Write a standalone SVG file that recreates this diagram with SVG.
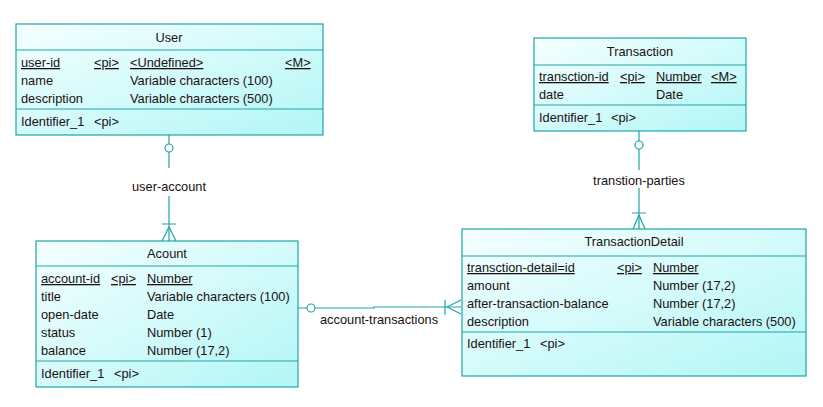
<svg xmlns="http://www.w3.org/2000/svg" width="823" height="407" viewBox="0 0 823 407">
<defs>
<linearGradient id="g" x1="0" y1="0" x2="1" y2="1">
<stop offset="0" stop-color="#f6ffff"/>
<stop offset="1" stop-color="#b2f6f6"/>
</linearGradient>
</defs>
<style>
.box{fill:url(#g);stroke:#1fa5a5;stroke-width:1.2}
.sep{stroke:#1fa5a5;stroke-width:1.2}
.c{fill:none;stroke:#1fa5a5;stroke-width:1.2}
.o{fill:#ffffff;stroke:#1fa5a5;stroke-width:1.2}
text{font-family:"Liberation Sans",Arial,sans-serif;font-size:12.8px;fill:#1a1010}
.t{text-anchor:middle}
.u{text-decoration:underline}
</style>
<rect width="823" height="407" fill="#ffffff"/>
<g id="connectors">
<!-- user-account -->
<path class="c" d="M169,135V144M169,152V168M169,196V241"/>
<circle class="o" cx="169" cy="148" r="4"/>
<path class="c" d="M162,224H176M169,227L162,241M169,227L176,241"/>
<text class="t" x="169" y="191">user-account</text>
<!-- transtion-parties -->
<path class="c" d="M639,131V141M639,149V170M639,188V229"/>
<circle class="o" cx="639" cy="145" r="4"/>
<path class="c" d="M632,213H646M639,215L633,229M639,215L645,229"/>
<text class="t" x="639" y="185">transtion-parties</text>
<!-- account-transactions -->
<path class="c" d="M298,308H307M315,308H374V307H461"/>
<circle class="o" cx="311" cy="308" r="4"/>
<path class="c" d="M445,300V315M447,307L461,300M447,307L461,314"/>
<text x="320" y="324">account-transactions</text>
</g>
<g id="user">
<rect class="box" x="16" y="24" width="307" height="111"/>
<line class="sep" x1="16" y1="50" x2="323" y2="50"/>
<line class="sep" x1="16" y1="109" x2="323" y2="109"/>
<text class="t" x="169" y="42">User</text>
<text class="u" x="21" y="67">user-id</text>
<text class="u" x="94" y="67">&lt;pi&gt;</text>
<text class="u" x="130" y="67">&lt;Undefined&gt;</text>
<text class="u" x="285" y="67">&lt;M&gt;</text>
<text x="21" y="85">name</text>
<text x="130" y="85">Variable characters (100)</text>
<text x="21" y="103">description</text>
<text x="130" y="103">Variable characters (500)</text>
<text x="21" y="126">Identifier_1</text>
<text x="94" y="126">&lt;pi&gt;</text>
</g>
<g id="transaction">
<rect class="box" x="534" y="38" width="212" height="93"/>
<line class="sep" x1="534" y1="65" x2="746" y2="65"/>
<line class="sep" x1="534" y1="105" x2="746" y2="105"/>
<text class="t" x="640" y="56">Transaction</text>
<text class="u" x="539" y="81">transction-id</text>
<text class="u" x="620" y="81">&lt;pi&gt;</text>
<text class="u" x="656" y="81">Number</text>
<text class="u" x="711" y="81">&lt;M&gt;</text>
<text x="539" y="99">date</text>
<text x="656" y="99">Date</text>
<text x="539" y="122">Identifier_1</text>
<text x="611" y="122">&lt;pi&gt;</text>
</g>
<g id="acount">
<rect class="box" x="36" y="241" width="262" height="146"/>
<line class="sep" x1="36" y1="266" x2="298" y2="266"/>
<line class="sep" x1="36" y1="361" x2="298" y2="361"/>
<text class="t" x="167" y="258">Acount</text>
<text class="u" x="41" y="283">account-id</text>
<text class="u" x="111" y="283">&lt;pi&gt;</text>
<text class="u" x="147" y="283">Number</text>
<text x="41" y="301">title</text>
<text x="147" y="301">Variable characters (100)</text>
<text x="41" y="319">open-date</text>
<text x="147" y="319">Date</text>
<text x="41" y="337">status</text>
<text x="147" y="337">Number (1)</text>
<text x="41" y="355">balance</text>
<text x="147" y="355">Number (17,2)</text>
<text x="41" y="378">Identifier_1</text>
<text x="114" y="378">&lt;pi&gt;</text>
</g>
<g id="transactiondetail">
<rect class="box" x="462" y="229" width="344" height="147"/>
<line class="sep" x1="462" y1="256" x2="806" y2="256"/>
<line class="sep" x1="462" y1="332" x2="806" y2="332"/>
<text class="t" x="634" y="246">TransactionDetail</text>
<text class="u" x="467" y="272">transction-detail=id</text>
<text class="u" x="617" y="272">&lt;pi&gt;</text>
<text class="u" x="653" y="272">Number</text>
<text x="467" y="290">amount</text>
<text x="653" y="290">Number (17,2)</text>
<text x="467" y="308">after-transaction-balance</text>
<text x="653" y="308">Number (17,2)</text>
<text x="467" y="326">description</text>
<text x="653" y="326">Variable characters (500)</text>
<text x="467" y="348">Identifier_1</text>
<text x="540" y="348">&lt;pi&gt;</text>
</g>
</svg>
